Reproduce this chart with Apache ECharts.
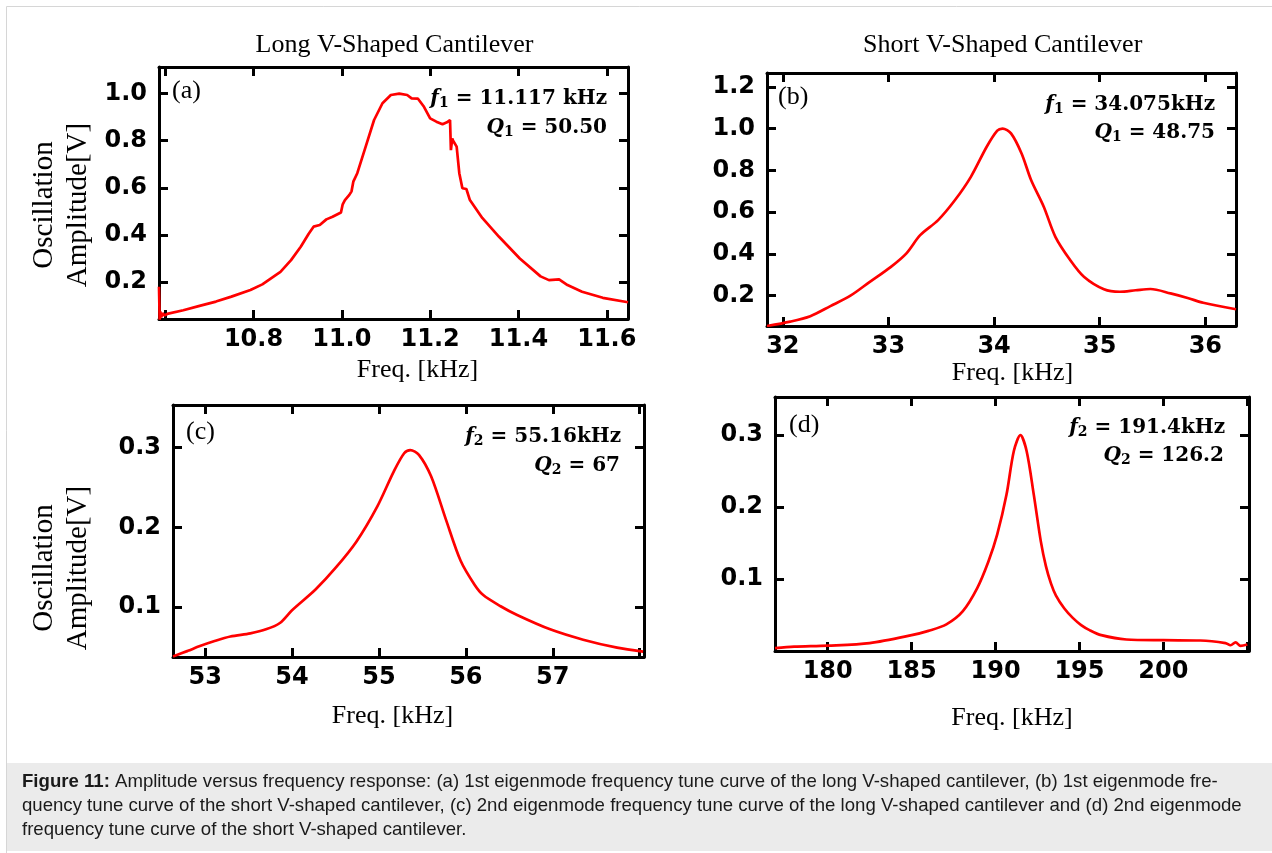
<!DOCTYPE html>
<html><head><meta charset="utf-8">
<script src="https://cdn.jsdelivr.net/npm/echarts@6/dist/echarts.min.js"></script>
<style>html,body{margin:0;padding:0;background:#fff}#c{width:1272px;height:853px}</style>
</head><body><div id="c"></div>
<script>
// ---------- data ----------
const titleLong = 'Long V-Shaped Cantilever';
const titleShort = 'Short V-Shaped Cantilever';
const xAxisName = 'Freq. [kHz]';
const yAxisName = 'Oscillation\nAmplitude[V]';

// (a) long cantilever, 1st eigenmode
const freqA = [10.586,10.5875,10.589,10.591,10.594,10.598,10.607,10.641,10.68,10.715,10.75,10.793,10.82,10.847,10.861,10.885,10.907,10.925,10.936,10.95,10.965,10.979,10.998,11.002,11.007,11.017,11.022,11.026,11.035,11.054,11.073,11.092,11.111,11.13,11.148,11.158,11.172,11.186,11.2,11.214,11.228,11.238,11.245,11.247,11.25,11.252,11.26,11.266,11.273,11.282,11.29,11.318,11.356,11.403,11.45,11.469,11.492,11.511,11.544,11.591,11.648];
const ampA  = [0.18,0.04,0.075,0.05,0.068,0.058,0.066,0.08,0.1,0.117,0.138,0.166,0.19,0.225,0.243,0.293,0.35,0.405,0.435,0.442,0.466,0.477,0.495,0.53,0.548,0.57,0.585,0.626,0.662,0.775,0.888,0.959,0.994,1.0,0.994,0.98,0.979,0.944,0.895,0.881,0.87,0.878,0.888,0.76,0.81,0.80,0.775,0.662,0.598,0.595,0.548,0.472,0.392,0.3,0.224,0.208,0.211,0.187,0.159,0.133,0.114];
// (b) short cantilever, 1st eigenmode
const freqB = [31.85,32.07,32.26,32.45,32.64,32.82,33.02,33.17,33.3,33.47,33.63,33.78,33.93,34.03,34.08,34.16,34.26,34.35,34.47,34.58,34.72,34.85,35.04,35.19,35.34,35.48,35.67,35.84,35.98,36.29];
const ampB  = [0.055,0.076,0.102,0.15,0.2,0.265,0.337,0.403,0.49,0.562,0.658,0.769,0.913,0.99,1.0,0.977,0.881,0.754,0.626,0.482,0.371,0.291,0.231,0.219,0.226,0.232,0.211,0.188,0.166,0.135];
// (c) long cantilever, 2nd eigenmode
const freqC = [52.63,52.8,52.94,53.1,53.29,53.52,53.7,53.86,54.0,54.27,54.5,54.74,54.98,55.17,55.29,55.36,55.46,55.6,55.77,55.94,56.1,56.2,56.4,56.59,56.97,57.35,57.74,58.04];
const ampC  = [0.038,0.045,0.051,0.057,0.063,0.067,0.072,0.08,0.096,0.122,0.149,0.182,0.226,0.27,0.293,0.297,0.291,0.264,0.21,0.158,0.128,0.115,0.101,0.09,0.072,0.059,0.049,0.044];
// (d) short cantilever, 2nd eigenmode
const freqD = [176.86,178,180,182.5,185,186,187.07,188.04,188.9,189.57,190.1,190.65,191.09,191.48,191.85,192.28,192.7,193.0,193.3,193.6,194.1,194.6,195.1,195.6,196.3,197.8,200,202.2,203.7,204.0,204.3,204.6,205.0];
const ampD  = [0.004,0.006,0.0074,0.011,0.022,0.028,0.037,0.055,0.087,0.124,0.162,0.217,0.278,0.3,0.278,0.217,0.152,0.118,0.094,0.077,0.059,0.046,0.036,0.029,0.022,0.016,0.015,0.0146,0.011,0.008,0.012,0.007,0.009];

// tick values and labels
const ticksAx = [10.6,10.8,11.0,11.2,11.4,11.6];
const labelsAx = [10.8,11.0,11.2,11.4,11.6];
const ticksAy = [0.2,0.4,0.6,0.8,1.0];
const ticksBx = [32,33,34,35,36];
const ticksBy = [0.2,0.4,0.6,0.8,1.0,1.2];
const ticksCx = [53,54,55,56,57,58];
const labelsCx = [53,54,55,56,57];
const ticksCy = [0.1,0.2,0.3];
const ticksDx = [180,185,190,195,200,205];
const labelsDx = [180,185,190,195,200];
const ticksDy = [0.1,0.2,0.3];

const annA = ['{i|f}{s|1} = 11.117 kHz', '{i|Q}{s|1} = 50.50'];
const annB = ['{i|f}{s|1} = 34.075kHz', '{i|Q}{s|1} = 48.75'];
const annC = ['{i|f}{s|2} = 55.16kHz', '{i|Q}{s|2} = 67'];
const annD = ['{i|f}{s|2} = 191.4kHz', '{i|Q}{s|2} = 126.2'];

const caption = [
  '{b|Figure 11:} Amplitude versus frequency response: (a) 1st eigenmode frequency tune curve of the long V-shaped cantilever, (b) 1st eigenmode fre-',
  'quency tune curve of the short V-shaped cantilever, (c) 2nd eigenmode frequency tune curve of the long V-shaped cantilever and (d) 2nd eigenmode',
  'frequency tune curve of the short V-shaped cantilever.'
];

// ---------- layout ----------
const panels = [
  {grid:{left:159,top:67,width:469,height:252}, x:[10.586,11.648], y:[0.043,1.113], xt:ticksAx, xl:labelsAx, yt:ticksAy, yl:ticksAy, xd:1, yd:1, gap:38, pad:[0,0,0,48], data:[freqA,ampA], smooth:false},
  {grid:{left:767,top:73,width:469,height:253}, x:[31.85,36.29], y:[0.055,1.266], xt:ticksBx, xl:ticksBx, yt:ticksBy, yl:ticksBy, xd:0, yd:1, gap:31, pad:[0,0,0,22], data:[freqB,ampB], smooth:0.3},
  {grid:{left:173,top:405,width:471,height:252}, x:[52.63,58.05], y:[0.0373,0.3535], xt:ticksCx, xl:labelsCx, yt:ticksCy, yl:ticksCy, xd:0, yd:1, gap:46, pad:[0,32,0,0], data:[freqC,ampC], smooth:0.3},
  {grid:{left:775,top:397,width:474,height:254}, x:[176.86,205.1], y:[0,0.353], xt:ticksDx, xl:labelsDx, yt:ticksDy, yl:ticksDy, xd:0, yd:1, gap:54, pad:[0,0,0,0], data:[freqD,ampD], smooth:0.3}
];

const black = '#000';
const lineW = 3;
const tickLbl = {fontFamily:'DejaVu Sans', fontWeight:'bold', fontSize:24, color:black};
const grids = [], xAxes = [], yAxes = [], series = [];
panels.forEach((p, i) => {
  grids.push(Object.assign({containLabel:false}, p.grid));
  const common = {gridIndex:i, type:'value', splitLine:{show:false},
    axisLine:{show:true, onZero:false, lineStyle:{color:black, width:lineW}}};
  xAxes.push(Object.assign({}, common, {position:'bottom', min:p.x[0], max:p.x[1],
    axisTick:{show:true, inside:true, length:9, lineStyle:{color:black, width:lineW}, customValues:p.xt},
    axisLabel:Object.assign({customValues:p.xl, margin:9, formatter:v => v.toFixed(p.xd)}, tickLbl),
    name:xAxisName, nameLocation:'middle', nameGap:p.gap,
    nameTextStyle:{fontFamily:'Liberation Serif', fontSize:26, color:black, padding:p.pad}}));
  xAxes.push(Object.assign({}, common, {position:'top', min:p.x[0], max:p.x[1],
    axisTick:{show:true, inside:true, length:9, lineStyle:{color:black, width:lineW}, customValues:p.xt},
    axisLabel:{show:false}}));
  yAxes.push(Object.assign({}, common, {position:'left', min:p.y[0], max:p.y[1],
    axisTick:{show:true, inside:true, length:9, lineStyle:{color:black, width:lineW}, customValues:p.yt},
    axisLabel:Object.assign({customValues:p.yl, margin:12, formatter:v => v.toFixed(p.yd)}, tickLbl)}));
  yAxes.push(Object.assign({}, common, {position:'right', min:p.y[0], max:p.y[1],
    axisTick:{show:true, inside:true, length:9, lineStyle:{color:black, width:lineW}, customValues:p.yt},
    axisLabel:{show:false}}));
  series.push({type:'line', xAxisIndex:2*i, yAxisIndex:2*i, showSymbol:false, symbol:'none',
    smooth:p.smooth, clip:true,
    lineStyle:{color:'#ff0000', width:2.7}, data:p.data[0].map((f, k) => [f, p.data[1][k]])});
});

// ---------- free texts ----------
function txt(x, y, text, o) {
  return {type:'text', x:x, y:y, silent:true, style:Object.assign({text:text, fill:black,
    fontFamily:'Liberation Serif', fontSize:26, align:'center', verticalAlign:'middle'}, o || {})};
}
const mathRich = {
  i:{fontFamily:'DejaVu Serif', fontWeight:'bold', fontStyle:'italic', fontSize:20, lineHeight:23},
  s:{fontFamily:'DejaVu Serif', fontWeight:'bold', fontSize:14, lineHeight:8, verticalAlign:'bottom'}
};
function ann(x, y, text) {
  return txt(x, y, text, {fontFamily:'DejaVu Serif', fontWeight:'bold', fontSize:20, lineHeight:23,
    align:'right', rich:mathRich});
}
const graphics = [
  {type:'rect', silent:true, shape:{x:6.5, y:6.5, width:1300, height:900}, style:{fill:'none', stroke:'#d6d6d6', lineWidth:1}},
  {type:'rect', silent:true, shape:{x:7, y:763, width:1270, height:88}, style:{fill:'#ebebeb'}},
  txt(394.5, 45, titleLong),
  txt(1002.7, 45, titleShort),
  txt(172, 91.5, '(a)', {align:'left'}),
  txt(778, 97.5, '(b)', {align:'left'}),
  txt(186, 432, '(c)', {align:'left'}),
  txt(789, 425, '(d)', {align:'left'}),
  ann(607, 99, annA[0]), ann(607, 128, annA[1]),
  ann(1215, 105, annB[0]), ann(1215, 133, annB[1]),
  ann(621, 437, annC[0]), ann(620, 466, annC[1]),
  ann(1225, 427.5, annD[0]), ann(1224, 455.5, annD[1])
];
// rotated y-axis names for (a) and (c)
[205, 568].forEach(cy => {
  const yn = txt(61, cy, yAxisName, {fontSize:29, lineHeight:34});
  yn.rotation = Math.PI/2;
  graphics.push(yn);
});
caption.forEach((line, k) => {
  graphics.push(txt(22, 782 + 24*k, line, {fontFamily:'Liberation Sans', fontSize:18.6, fill:'#1a1a1a', align:'left',
    rich:{b:{fontFamily:'Liberation Sans', fontSize:18.6, fontWeight:'bold', fill:'#1a1a1a'}}}));
});

const chart = echarts.init(document.getElementById('c'), null, {renderer:'canvas'});
chart.setOption({
  animation:false,
  backgroundColor:'#fff',
  grid:grids, xAxis:xAxes, yAxis:yAxes, series:series,
  graphic:graphics
});
</script></body></html>
